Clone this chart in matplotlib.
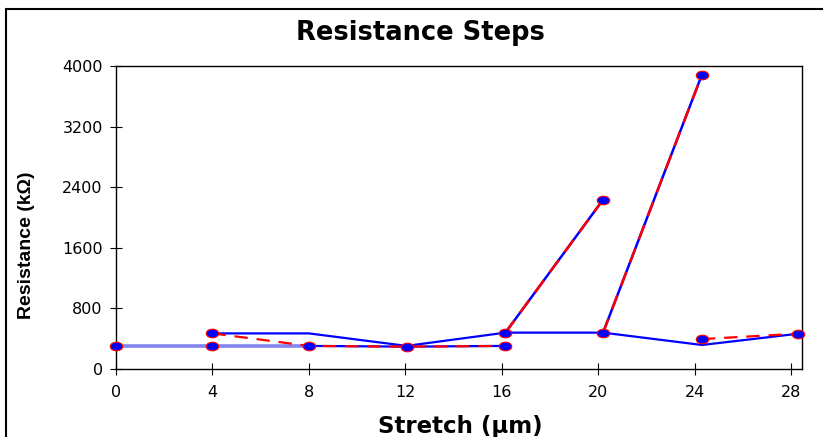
import matplotlib.pyplot as plt
from matplotlib.path import Path
from matplotlib.transforms import Affine2D
from matplotlib.patches import Rectangle

# stretch positions (um) and resistances (kOhm)
base_x = [0, 4, 8]
base_y = [305, 305, 305]

load_x = [4, 8, 12.05, 16.15, 20.2, 24.3, 28.3]
load_y = [470, 470, 305, 480, 480, 317, 466]

low_x = [8, 12.05, 16.15]
low_y = [305, 295, 305]

unload_x = [4, 8, 12.05, 16.15]
unload_y = [470, 305, 295, 305]

jump1_x = [16.15, 20.2]
jump1_y = [480, 2235]
jump2_x = [20.2, 24.3]
jump2_y = [480, 3885]

tail_x = [24.3, 28.3]
tail_y = [395, 466]

pts_x = [0, 4, 4, 8, 12.05, 16.15, 16.15, 20.2, 20.2, 24.3, 24.3, 28.3]
pts_y = [305, 470, 305, 305, 295, 480, 305, 2235, 480, 3885, 395, 466]

yticks = [0, 800, 1600, 2400, 3200, 4000]
xticks = [0, 4, 8, 12, 16, 20, 24, 28]

plt.rcParams['font.family'] = ['DejaVu Sans']

fig = plt.figure(figsize=(8.23, 4.37), dpi=100)
ax = fig.add_axes([116 / 823, 1 - 369 / 437, (802 - 116) / 823, (369 - 66) / 437])

# oval marker like the original
oval = Path.unit_circle().transformed(Affine2D().scale(1.45, 1.0))

blue = '#0000ff'
red = '#ff0000'

ax.plot(base_x, base_y, color='#8484f0', lw=2.6, zorder=2)
ax.plot(load_x, load_y, color=blue, lw=1.6, zorder=3)
ax.plot(low_x, low_y, color=blue, lw=1.6, zorder=3)
for xs, ys in [(jump1_x, jump1_y), (jump2_x, jump2_y)]:
    ax.plot(xs, ys, color=blue, lw=1.8, zorder=3)
    ax.plot(xs, ys, color=red, lw=1.8, dashes=(6, 4), zorder=4)
ax.plot(unload_x, unload_y, color=red, lw=1.6, dashes=(6, 4), zorder=4)
ax.plot(tail_x, tail_y, color=red, lw=1.6, dashes=(6, 4), zorder=4)
ax.plot(pts_x, pts_y, ls='none', marker=oval, ms=9, mfc=blue, mec=red,
        mew=0.8, zorder=5, clip_on=False)

ax.set_xlim(0, 28.45)
ax.set_ylim(0, 4000)
ax.set_xticks(xticks)
ax.set_yticks(yticks)
ax.tick_params(direction='inout', length=9, width=0.8, labelsize=11.5, pad=5)
ax.tick_params(axis='x', pad=7)
for s in ax.spines.values():
    s.set_linewidth(1.0)

ax.set_ylabel('Resistance (kΩ)', family='Liberation Sans', fontsize=14,
              fontweight='bold')
ax.yaxis.set_label_coords(35 / 823, 1 - 245 / 437, transform=fig.transFigure)

fig.text(460 / 823, 1 - 427 / 437, 'Stretch (µm)', ha='center', va='center',
         fontsize=16.5, fontweight='bold')
fig.text(420 / 823, 1 - 33 / 437, 'Resistance Steps', ha='center', va='center',
         fontsize=18.5, fontweight='bold')

# outer chart border (runs off the right/bottom edge)
fig.patches.append(Rectangle((6 / 823, -0.1), 1.2, 1 - 9 / 437 + 0.1,
                             transform=fig.transFigure, fill=False,
                             edgecolor='black', lw=1.5))

fig.savefig('out.png', dpi=100)
